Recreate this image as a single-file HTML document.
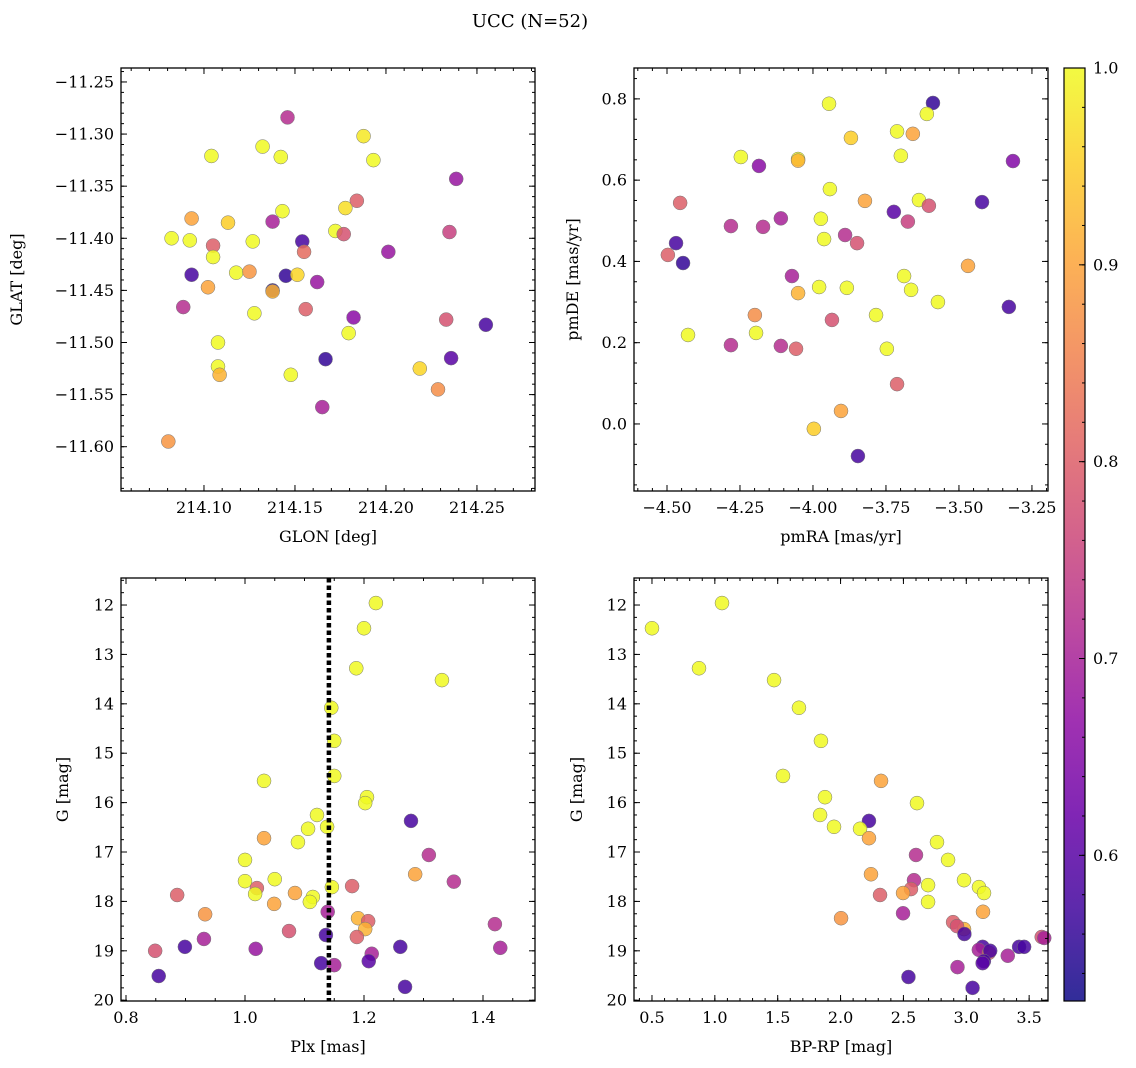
<!DOCTYPE html>
<html><head><meta charset="utf-8"><style>
body{margin:0;background:#fff}
svg{display:block;font-family:"DejaVu Serif","Liberation Serif",serif}
</style></head><body>
<svg id="c" width="1136" height="1068">
<text x="530" y="27" font-size="18" text-anchor="middle">UCC (N=52)</text>
</svg>
<script>
// Panel 1: GLON / GLAT
const glon=[214.1459,214.1877,214.1322,214.1041,214.1422,214.1931,214.2386,214.1840,214.1777,214.1431,214.0932,214.1132,214.1377,214.1722,214.1768,214.2349,214.0822,214.0922,214.1268,214.1540,214.1050,214.1550,214.2013,214.1050,214.0932,214.1177,214.1250,214.1450,214.1513,214.1622,214.1022,214.1377,214.1377,214.0886,214.1559,214.1277,214.1822,214.2331,214.2549,214.1795,214.1077,214.1668,214.2358,214.1077,214.2186,214.1477,214.1086,214.2286,214.1650,214.0804];
const glat=[-11.284,-11.302,-11.312,-11.321,-11.322,-11.325,-11.343,-11.364,-11.371,-11.374,-11.381,-11.385,-11.384,-11.393,-11.396,-11.394,-11.400,-11.402,-11.403,-11.403,-11.407,-11.413,-11.413,-11.418,-11.435,-11.433,-11.432,-11.436,-11.435,-11.442,-11.447,-11.450,-11.451,-11.466,-11.468,-11.472,-11.476,-11.478,-11.483,-11.491,-11.500,-11.516,-11.515,-11.523,-11.525,-11.531,-11.531,-11.545,-11.562,-11.595];
const prob1=[0.72,0.98,1,1,1,1,0.68,0.8,0.97,1,0.9,0.95,0.7,1,0.78,0.75,1,1,1,0.58,0.8,0.82,0.68,1,0.58,1,0.88,0.56,0.96,0.68,0.9,0.55,0.92,0.72,0.8,1,0.66,0.78,0.58,1,1,0.56,0.6,1,0.96,1,0.92,0.87,0.7,0.88];
// Panel 2: pmRA / pmDE
const pmra=[-3.589,-3.945,-3.610,-3.712,-3.658,-3.870,-3.315,-4.247,-4.051,-4.051,-4.185,-3.699,-3.942,-3.822,-3.637,-3.603,-4.455,-3.421,-4.110,-3.723,-3.973,-3.675,-4.281,-4.171,-3.890,-3.962,-4.469,-3.849,-4.445,-4.497,-4.072,-3.688,-3.469,-3.979,-3.884,-4.051,-3.664,-3.572,-3.329,-4.199,-3.784,-3.935,-4.428,-4.195,-4.281,-4.110,-4.058,-3.747,-3.712,-3.904,-3.997,-3.846];
const pmde=[0.790,0.788,0.763,0.720,0.714,0.704,0.647,0.657,0.652,0.648,0.635,0.660,0.578,0.549,0.551,0.537,0.544,0.546,0.506,0.522,0.505,0.498,0.487,0.485,0.465,0.455,0.445,0.445,0.396,0.416,0.364,0.364,0.389,0.337,0.335,0.322,0.330,0.300,0.288,0.268,0.268,0.256,0.219,0.224,0.194,0.192,0.185,0.185,0.098,0.032,-0.012,-0.079];
const prob2=[0.56,1,1,1,0.9,0.95,0.65,1,1,0.92,0.66,1,1,0.9,1,0.78,0.8,0.58,0.7,0.6,1,0.75,0.72,0.72,0.72,1,0.58,0.78,0.56,0.8,0.7,1,0.9,1,1,0.92,1,1,0.58,0.87,1,0.78,1,1,0.72,0.72,0.8,1,0.8,0.9,0.95,0.58];
// Panel 3: Plx / G
const plx=[1.220,1.200,1.187,1.331,1.145,1.150,1.032,1.150,1.205,1.202,1.121,1.279,1.106,1.138,1.032,1.089,1.000,1.309,1.286,1.000,1.050,1.351,1.146,1.180,1.020,0.886,1.017,1.084,1.114,1.109,1.049,0.933,1.139,1.190,1.207,1.420,1.202,1.074,1.136,1.188,0.931,0.899,1.261,1.429,1.018,0.849,1.213,1.208,1.128,1.150,0.855,1.269];
const gmag3=[11.96,12.47,13.28,13.52,14.08,14.75,15.56,15.46,15.89,16.01,16.25,16.37,16.53,16.49,16.72,16.80,17.16,17.06,17.45,17.59,17.55,17.60,17.71,17.69,17.73,17.87,17.85,17.83,17.91,18.01,18.05,18.26,18.21,18.34,18.40,18.46,18.56,18.60,18.68,18.72,18.76,18.92,18.92,18.94,18.96,19.00,19.06,19.21,19.25,19.29,19.51,19.73];
const prob3=[1,1,1,1,1,1,1,1,1,1,1,0.58,1,1,0.9,1,1,0.72,0.9,1,1,0.72,1,0.8,0.8,0.8,1,0.9,1,1,0.9,0.88,0.7,0.92,0.8,0.72,0.92,0.78,0.58,0.8,0.7,0.58,0.58,0.7,0.68,0.78,0.7,0.6,0.58,0.7,0.58,0.58];
// Panel 4: BP-RP / G
const bprp=[0.50,1.057,0.874,1.471,1.669,1.844,1.542,2.322,1.876,2.608,1.837,2.226,2.155,1.948,2.226,2.767,2.855,2.600,2.242,2.982,2.584,2.696,3.101,3.141,2.314,2.560,2.497,2.696,3.133,2.497,2.004,2.895,2.982,2.926,3.600,3.620,2.985,3.130,3.420,3.100,3.180,3.190,3.460,3.330,3.140,3.130,2.930,2.540,3.050];
const gmag4=[12.47,11.96,13.28,13.52,14.08,14.75,15.46,15.56,15.89,16.01,16.25,16.37,16.53,16.49,16.72,16.80,17.16,17.06,17.45,17.57,17.57,17.67,17.71,17.83,17.87,17.75,17.83,18.01,18.21,18.24,18.34,18.42,18.56,18.50,18.72,18.74,18.66,18.92,18.92,18.98,19.04,19.00,18.92,19.10,19.21,19.25,19.33,19.53,19.75];
const prob4=[1,1,1,1,1,1,1,0.9,1,1,1,0.58,1,1,0.9,1,1,0.72,0.9,1,0.72,1,1,1,0.8,0.8,0.9,1,0.9,0.7,0.88,0.8,0.92,0.78,0.78,0.7,0.58,0.58,0.58,0.7,0.8,0.58,0.58,0.7,0.58,0.6,0.7,0.58,0.58];
const cbTicks=[0.6,0.7,0.8,0.9,1.0];

const VMIN=0.526,VMAX=1.0;
const svg=document.getElementById('c');const NS='http://www.w3.org/2000/svg';
function mk(t,a,p){const e=document.createElementNS(NS,t);for(const k in a)e.setAttribute(k,a[k]);(p||svg).appendChild(e);return e;}
const stops=[[13,8,135],[65,4,157],[106,0,168],[143,13,164],[177,42,144],[204,71,120],[225,100,98],[242,132,75],[252,166,54],[252,206,37],[240,249,33]];
function plasma(v){let t=Math.max(0,Math.min(1,(v-VMIN)/(VMAX-VMIN)))*10;const i=Math.min(9,Math.floor(t)),f=t-i;const a=stops[i],b=stops[i+1];return 'rgb('+a.map((c,k)=>Math.round(c+(b[k]-c)*f)).join(',')+')';}
function fmt(v,d){return (v<0?'\u2212':'')+Math.abs(v).toFixed(d);}
function panel(o){
  const g=mk('g',{});
  const X=v=>o.x0+(v-o.xr[0])/(o.xr[1]-o.xr[0])*o.w;
  const Y=v=>o.inv? o.y0+(v-o.yr[0])/(o.yr[1]-o.yr[0])*o.h : o.y0+o.h-(v-o.yr[0])/(o.yr[1]-o.yr[0])*o.h;
  const sc=mk('g',{},g);
  for(let i=0;i<o.xs.length;i++){const c=mk('circle',{cx:X(o.xs[i]),cy:Y(o.ys[i]),r:7,fill:plasma(o.ps[i]),'fill-opacity':0.85,stroke:'#777','stroke-width':0.5},sc);}
  if(o.vline!==undefined){const l=mk('line',{x1:X(o.vline),x2:X(o.vline),y1:o.y0,y2:o.y0+o.h,stroke:'#000','stroke-width':4.5,'stroke-dasharray':'4.5 3'},g);}
  mk('rect',{x:o.x0,y:o.y0,width:o.w,height:o.h,fill:'none',stroke:'#000','stroke-width':1.3},g);
  const tk=mk('g',{stroke:'#000','stroke-width':1},g);
  const eps=1e-9;
  for(let v=Math.ceil(o.xr[0]/o.xm-eps)*o.xm;v<=o.xr[1]+eps;v+=o.xm){const px=X(v);mk('line',{x1:px,x2:px,y1:o.y0+o.h,y2:o.y0+o.h-3},tk);mk('line',{x1:px,x2:px,y1:o.y0,y2:o.y0+3},tk);}
  for(const v of o.xt){const px=X(v);mk('line',{x1:px,x2:px,y1:o.y0+o.h,y2:o.y0+o.h-6},tk);mk('line',{x1:px,x2:px,y1:o.y0,y2:o.y0+6},tk);
    const t=mk('text',{x:px,y:o.y0+o.h+22,'font-size':16,'text-anchor':'middle'},g);t.textContent=fmt(v,o.xd);}
  const lo=Math.min(o.yr[0],o.yr[1]),hi=Math.max(o.yr[0],o.yr[1]);
  for(let v=Math.ceil(lo/o.ym-eps)*o.ym;v<=hi+eps;v+=o.ym){const py=Y(v);mk('line',{x1:o.x0,x2:o.x0+3,y1:py,y2:py},tk);mk('line',{x1:o.x0+o.w,x2:o.x0+o.w-3,y1:py,y2:py},tk);}
  for(const v of o.yt){const py=Y(v);mk('line',{x1:o.x0,x2:o.x0+6,y1:py,y2:py},tk);mk('line',{x1:o.x0+o.w,x2:o.x0+o.w-6,y1:py,y2:py},tk);
    const t=mk('text',{x:o.x0-7,y:py+5.5,'font-size':16,'text-anchor':'end'},g);t.textContent=fmt(v,o.yd);}
  const xl=mk('text',{x:o.x0+o.w/2,y:o.y0+o.h+51,'font-size':16,'text-anchor':'middle'},g);xl.textContent=o.xlab;
  const yx=o.ylx;const yl=mk('text',{x:yx,y:o.y0+o.h/2,'font-size':16,'text-anchor':'middle',transform:'rotate(-90 '+yx+' '+(o.y0+o.h/2)+')'},g);yl.textContent=o.ylab;
}
panel({name:'glon-glat-panel',x0:121,y0:68,w:414,h:423,xr:[214.0544,214.2819],yr:[-11.6425,-11.2366],xs:glon,ys:glat,ps:prob1,xt:[214.10,214.15,214.20,214.25],xd:2,xm:0.01,yt:[-11.25,-11.30,-11.35,-11.40,-11.45,-11.50,-11.55,-11.60],yd:2,ym:0.01,xlab:'GLON [deg]',ylab:'GLAT [deg]',ylx:22});
panel({name:'proper-motion-panel',x0:634,y0:68,w:414,h:423,xr:[-4.613,-3.195],yr:[-0.165,0.876],xs:pmra,ys:pmde,ps:prob2,xt:[-4.5,-4.25,-4.0,-3.75,-3.5,-3.25],xd:2,xm:0.05,yt:[0,0.2,0.4,0.6,0.8],yd:1,ym:0.05,xlab:'pmRA [mas/yr]',ylab:'pmDE [mas/yr]',ylx:578});
panel({name:'plx-g-panel',x0:121,y0:578,w:414,h:423,inv:true,xr:[0.7916,1.4874],yr:[11.453,20.016],xs:plx,ys:gmag3,ps:prob3,xt:[0.8,1.0,1.2,1.4],xd:1,xm:0.05,yt:[12,13,14,15,16,17,18,19,20],yd:0,ym:0.25,xlab:'Plx [mas]',ylab:'G [mag]',ylx:68,vline:1.141});
panel({name:'cmd-panel',x0:634,y0:578,w:414,h:423,inv:true,xr:[0.357,3.650],yr:[11.453,20.016],xs:bprp,ys:gmag4,ps:prob4,xt:[0.5,1.0,1.5,2.0,2.5,3.0,3.5],xd:1,xm:0.1,yt:[12,13,14,15,16,17,18,19,20],yd:0,ym:0.25,xlab:'BP-RP [mag]',ylab:'G [mag]',ylx:582});
// colorbar
const cb=mk('g',{});
const defs=mk('defs',{},cb);const lg=mk('linearGradient',{id:'pg',x1:0,y1:1,x2:0,y2:0},defs);
for(let i=0;i<=20;i++){const v=VMIN+(VMAX-VMIN)*i/20;mk('stop',{offset:i/20,'stop-color':plasma(v),'stop-opacity':0.85},lg);}
const cx0=1064,cy0=68,cw=21,ch=933;const CY=v=>cy0+ch-(v-VMIN)/(VMAX-VMIN)*ch;
mk('rect',{x:cx0,y:cy0,width:cw,height:ch,fill:'url(#pg)',stroke:'#000','stroke-width':1.2},cb);
for(let v=0.54;v<=1.0001;v+=0.02){mk('line',{x1:cx0+cw,x2:cx0+cw-3,y1:CY(v),y2:CY(v),stroke:'#000'},cb);}
for(const v of cbTicks){const py=CY(v);mk('line',{x1:cx0+cw,x2:cx0+cw-6,y1:py,y2:py,stroke:'#000'},cb);const t=mk('text',{x:cx0+cw+8,y:py+5.5,'font-size':16},cb);t.textContent=v.toFixed(1);}
</script>
</body></html>
